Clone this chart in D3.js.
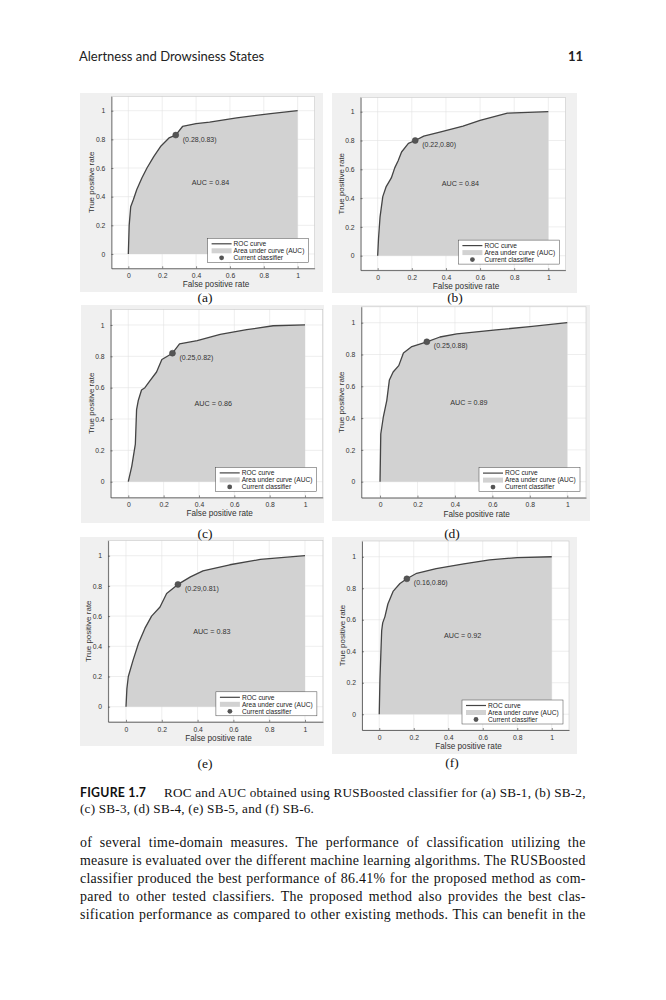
<!DOCTYPE html>
<html>
<head>
<meta charset="utf-8">
<script src="https://cdn.jsdelivr.net/npm/d3@7/dist/d3.min.js"></script>
<style>
  body { margin: 0; background: #fff; }
</style>
</head>
<body>
<div id="page"></div>
<script>
// ROC points (false positive rate / true positive rate)
const fprA = [0, 0.005, 0.014, 0.03, 0.05, 0.08, 0.11, 0.15, 0.19, 0.24, 0.28, 0.32, 0.40, 0.48, 0.64, 0.84, 1];
const tprA = [0, 0.20, 0.33, 0.38, 0.45, 0.53, 0.60, 0.68, 0.75, 0.81, 0.83, 0.89, 0.91, 0.92, 0.95, 0.98, 1];

const fprB = [0, 0.005, 0.014, 0.03, 0.05, 0.08, 0.10, 0.12, 0.14, 0.18, 0.22, 0.27, 0.37, 0.50, 0.60, 0.76, 1];
const tprB = [0, 0.12, 0.27, 0.41, 0.48, 0.54, 0.61, 0.66, 0.72, 0.78, 0.80, 0.83, 0.86, 0.90, 0.94, 0.99, 1];

const fprC = [0, 0.02, 0.04, 0.047, 0.057, 0.075, 0.094, 0.12, 0.16, 0.19, 0.25, 0.29, 0.39, 0.52, 0.67, 0.82, 1];
const tprC = [0, 0.10, 0.24, 0.46, 0.52, 0.585, 0.60, 0.64, 0.70, 0.78, 0.82, 0.88, 0.90, 0.94, 0.97, 0.995, 1];

const fprD = [0, 0.004, 0.018, 0.036, 0.05, 0.07, 0.10, 0.125, 0.17, 0.25, 0.32, 0.41, 0.62, 0.80, 1];
const tprD = [0, 0.30, 0.41, 0.51, 0.64, 0.69, 0.73, 0.81, 0.85, 0.88, 0.91, 0.93, 0.955, 0.975, 1];

const fprE = [0, 0.005, 0.013, 0.04, 0.07, 0.106, 0.143, 0.19, 0.227, 0.29, 0.36, 0.43, 0.58, 0.75, 1];
const tprE = [0, 0.12, 0.20, 0.31, 0.42, 0.52, 0.60, 0.66, 0.75, 0.81, 0.86, 0.90, 0.94, 0.975, 1];

const fprF = [0, 0.004, 0.014, 0.02, 0.033, 0.05, 0.08, 0.12, 0.16, 0.217, 0.33, 0.49, 0.64, 0.80, 1];
const tprF = [0, 0.22, 0.53, 0.58, 0.62, 0.70, 0.78, 0.83, 0.86, 0.895, 0.925, 0.955, 0.98, 0.995, 1];

const panelNames = ["(a)", "(b)", "(c)", "(d)", "(e)", "(f)"];
const aucValues = [0.84, 0.84, 0.86, 0.89, 0.83, 0.92];
const opFpr = [0.28, 0.22, 0.25, 0.25, 0.29, 0.16];
const opTpr = [0.83, 0.80, 0.82, 0.88, 0.81, 0.86];

const tickValues = [0, 0.2, 0.4, 0.6, 0.8, 1];
const tickLabels = ["0", "0.2", "0.4", "0.6", "0.8", "1"];
const legendLabels = ["ROC curve", "Area under curve (AUC)", "Current classifier"];

const curves = [[fprA, tprA], [fprB, tprB], [fprC, tprC], [fprD, tprD], [fprE, tprE], [fprF, tprF]];

// page text
const headerTitle = "Alertness and Drowsiness States";
const pageNumber = "11";
const captionHead = "FIGURE 1.7";
const captionLines = [
    "ROC and AUC obtained using RUSBoosted classifier for (a) SB-1, (b) SB-2,",
    "(c) SB-3, (d) SB-4, (e) SB-5, and (f) SB-6."
];
const bodyLines = [
    "of several time-domain measures. The performance of classification utilizing the",
    "measure is evaluated over the different machine learning algorithms. The RUSBoosted",
    "classifier produced the best performance of 86.41% for the proposed method as com-",
    "pared to other tested classifiers. The proposed method also provides the best clas-",
    "sification performance as compared to other existing methods. This can benefit in the"
];

// where each panel sits on the page: axes box, grey figure backdrop, sub-label
const layout = [
    { box: [111.4, 96.4, 314.6, 268.3], bg: [80, 93, 323, 292], cap: [205, 302] },
    { box: [360.6, 97.3, 565.4, 270.1], bg: [332, 93, 577, 293], cap: [455, 302] },
    { box: [110.6, 309.3, 322.7, 497.4], bg: [81, 305, 324, 523], cap: [205, 538] },
    { box: [361.3, 306.8, 586, 497.6], bg: [332, 305, 590, 521], cap: [452, 538] },
    { box: [108.1, 540.6, 322.9, 721.8], bg: [80, 537, 324, 746], cap: [205, 768] },
    { box: [362, 541, 569, 730], bg: [332, 537, 577, 754], cap: [452, 767] }
];

const axisFont = "'Liberation Sans', Arial, sans-serif";
const serifFont = "'Liberation Serif', 'Times New Roman', serif";
const textGrey = "#333";

let svg = d3.select("#page")
    .append("svg")
    .attr("width", 666)
    .attr("height", 1000);

svg.append("rect")
    .attr("width", 666)
    .attr("height", 1000)
    .attr("fill", "#fff");

// running header
svg.append("text")
    .attr("x", 79)
    .attr("y", 61)
    .style("font-family", "Lato, 'Open Sans', sans-serif")
    .style("font-size", "13px")
    .attr("fill", "#222")
    .text(headerTitle);

svg.append("text")
    .attr("x", 583)
    .attr("y", 61)
    .style("text-anchor", "end")
    .style("font-family", "Lato, 'Open Sans', sans-serif")
    .style("font-size", "13px")
    .style("font-weight", "bold")
    .attr("fill", "#222")
    .text(pageNumber);

function drawPanel(i) {
    const L = layout[i];
    const [left, top, right, bottom] = L.box;
    const fpr = curves[i][0];
    const tpr = curves[i][1];
    const pts = fpr.map((d, k) => [d, tpr[k]]);

    let g = svg.append("g");

    g.append("rect")
        .attr("x", L.bg[0])
        .attr("y", L.bg[1])
        .attr("width", L.bg[2] - L.bg[0])
        .attr("height", L.bg[3] - L.bg[1])
        .attr("fill", "#f0f0f0");

    let x = d3.scaleLinear().domain([-0.1, 1.1]).range([left, right]);
    let y = d3.scaleLinear().domain([-0.1, 1.1]).range([bottom, top]);

    g.append("rect")
        .attr("x", left)
        .attr("y", top)
        .attr("width", right - left)
        .attr("height", bottom - top)
        .attr("fill", "#fff");

    // grid
    let grid = g.append("g");
    grid.selectAll("line.gx").data(tickValues).enter()
        .append("line")
        .attr("x1", d => x(d)).attr("x2", d => x(d))
        .attr("y1", top).attr("y2", bottom)
        .attr("stroke", "#e2e2e2").attr("stroke-width", 0.6);
    grid.selectAll("line.gy").data(tickValues).enter()
        .append("line")
        .attr("x1", left).attr("x2", right)
        .attr("y1", d => y(d)).attr("y2", d => y(d))
        .attr("stroke", "#e2e2e2").attr("stroke-width", 0.6);

    // area under curve
    let area = d3.area()
        .x(d => x(d[0]))
        .y0(y(0))
        .y1(d => y(d[1]));

    g.append("path")
        .datum(pts)
        .attr("d", area)
        .attr("fill", "#d2d2d2");

    let line = d3.line()
        .x(d => x(d[0]))
        .y(d => y(d[1]));

    g.append("path")
        .datum(pts)
        .attr("d", line)
        .attr("fill", "none")
        .attr("stroke", "#444")
        .attr("stroke-width", 1.3)
        .attr("stroke-linejoin", "round");

    // operating point
    g.append("circle")
        .attr("cx", x(opFpr[i]))
        .attr("cy", y(opTpr[i]))
        .attr("r", 3)
        .attr("fill", "#555")
        .attr("stroke", "#444")
        .attr("stroke-width", 0.5);

    let f2 = d3.format(".2f");
    g.append("text")
        .attr("x", x(opFpr[i]) + 7)
        .attr("y", y(opTpr[i]) + 6.5)
        .style("font-family", axisFont)
        .style("font-size", "7px")
        .attr("fill", textGrey)
        .text(`(${f2(opFpr[i])},${f2(opTpr[i])})`);

    g.append("text")
        .attr("x", x(0.375))
        .attr("y", y(0.5))
        .attr("dy", "0.35em")
        .style("font-family", axisFont)
        .style("font-size", "7.2px")
        .attr("fill", textGrey)
        .text(`AUC = ${f2(aucValues[i])}`);

    // box: top/right faint, left/bottom darker
    g.append("rect")
        .attr("x", left).attr("y", top)
        .attr("width", right - left).attr("height", bottom - top)
        .attr("fill", "none")
        .attr("stroke", "#c8c8c8").attr("stroke-width", 0.6);

    let xAxis = g.append("g")
        .attr("transform", `translate(0, ${bottom})`)
        .call(d3.axisBottom(x)
            .tickValues(tickValues)
            .tickFormat((d, k) => tickLabels[k])
            .tickSizeInner(-2)
            .tickSizeOuter(0)
            .tickPadding(5));

    let yAxis = g.append("g")
        .attr("transform", `translate(${left}, 0)`)
        .call(d3.axisLeft(y)
            .tickValues(tickValues)
            .tickFormat((d, k) => tickLabels[k])
            .tickSizeInner(-2)
            .tickSizeOuter(0)
            .tickPadding(6));

    [xAxis, yAxis].forEach(a => {
        a.select(".domain").attr("stroke", "#3a3a3a").attr("stroke-width", 0.7);
        a.selectAll(".tick line").attr("stroke", "#3a3a3a").attr("stroke-width", 0.6);
        a.selectAll(".tick text")
            .style("font-family", axisFont)
            .style("font-size", "6.8px")
            .attr("fill", textGrey);
    });

    g.append("text")
        .attr("x", (left + right) / 2 + 3)
        .attr("y", bottom + 19)
        .style("text-anchor", "middle")
        .style("font-family", axisFont)
        .style("font-size", "8.2px")
        .attr("fill", textGrey)
        .text("False positive rate");

    g.append("text")
        .attr("transform", `translate(${left - 17}, ${(top + bottom) / 2}) rotate(-90)`)
        .style("text-anchor", "middle")
        .style("font-family", axisFont)
        .style("font-size", "8px")
        .attr("fill", textGrey)
        .text("True positive rate");

    // legend
    const lw = 101, lh = 24;
    const lx = right - 6 - lw, ly = bottom - 6 - lh;
    let leg = g.append("g").attr("transform", `translate(${lx}, ${ly})`);
    leg.append("rect")
        .attr("width", lw).attr("height", lh)
        .attr("fill", "#fff")
        .attr("stroke", "#444").attr("stroke-width", 0.5);

    const rowY = [5.5, 12.5, 19.5];
    leg.append("line")
        .attr("x1", 4).attr("x2", 24)
        .attr("y1", rowY[0]).attr("y2", rowY[0])
        .attr("stroke", "#444").attr("stroke-width", 1.2);
    leg.append("rect")
        .attr("x", 4).attr("y", rowY[1] - 2.5)
        .attr("width", 20).attr("height", 5)
        .attr("fill", "#d2d2d2");
    leg.append("circle")
        .attr("cx", 14).attr("cy", rowY[2])
        .attr("r", 2.4)
        .attr("fill", "#555");

    leg.selectAll("text.lab")
        .data(legendLabels)
        .enter()
        .append("text")
        .attr("x", 26)
        .attr("y", (d, k) => rowY[k])
        .attr("dy", "0.35em")
        .style("font-family", axisFont)
        .style("font-size", "6.6px")
        .attr("fill", "#222")
        .text(d => d);
}

d3.range(curves.length).forEach(drawPanel);

// sub-labels go on top of every backdrop
layout.forEach((L, i) => {
    svg.append("text")
        .attr("x", L.cap[0])
        .attr("y", L.cap[1])
        .style("text-anchor", "middle")
        .style("font-family", serifFont)
        .style("font-size", "13.5px")
        .attr("fill", "#111")
        .text(panelNames[i]);
});

// set a block of lines: one shared letter-spacing so the widest line
// fits with plain word gaps, then justify the rest through word-spacing
function textBlock(lines, xs, ys, size, right, justify) {
    let nodes = lines.map((s, k) => svg.append("text")
        .attr("x", xs[k])
        .attr("y", ys[k])
        .style("font-family", serifFont)
        .style("font-size", size + "px")
        .attr("fill", "#111")
        .text(s));
    let ls = Infinity;
    nodes.forEach((t, k) => {
        if (!justify[k]) return;
        const w = t.node().getComputedTextLength();
        ls = Math.min(ls, (right - xs[k] - w) / lines[k].length);
    });
    if (!isFinite(ls)) ls = 0;
    ls = Math.max(ls, 0);
    nodes.forEach(t => t.style("letter-spacing", ls + "px"));
    nodes.forEach((t, k) => {
        if (!justify[k]) return;
        const w = t.node().getComputedTextLength();
        const gaps = lines[k].split(" ").length - 1;
        if (gaps > 0) t.style("word-spacing", ((right - xs[k] - w) / gaps) + "px");
    });
}

svg.append("text")
    .attr("x", 80)
    .attr("y", 797)
    .attr("textLength", 66)
    .style("font-family", "Lato, 'Open Sans', sans-serif")
    .style("font-size", "12.3px")
    .style("font-weight", "bold")
    .attr("fill", "#111")
    .text(captionHead);

textBlock(captionLines, [164, 80], [797, 813], 13.2, 585.7, [true, false]);

textBlock(bodyLines, [80, 80, 80, 80, 80], [847, 865, 883, 901, 919], 13.9, 585.7,
    [true, true, true, true, true]);
</script>
</body>
</html>
